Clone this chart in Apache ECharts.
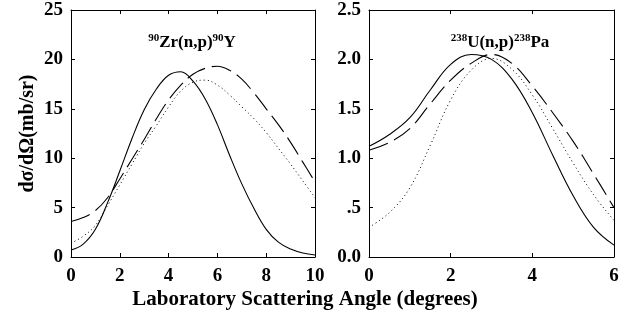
<!DOCTYPE html>
<html>
<head>
<meta charset="utf-8">
<script src="https://cdn.jsdelivr.net/npm/echarts@6/dist/echarts.min.js"></script>
<style>
  html, body { margin: 0; padding: 0; background: #fff; }
  #chart { width: 639px; height: 322px; }
</style>
</head>
<body>
<div id="chart"></div>
<script>
// 90Zr(n,p)90Y angular distribution, angle in degrees
const xZr = [0, 0.5, 1, 1.5, 2, 2.5, 3, 3.5, 4, 4.5, 5, 5.5, 6, 6.5, 7, 7.5, 8, 8.5, 9, 9.5, 10];
const zrSolid  = [0.7, 1.3, 2.8, 5.5, 8.7, 12.0, 14.9, 17.0, 18.4, 18.75, 17.8, 16.0, 13.4, 10.3, 7.4, 4.9, 2.8, 1.5, 0.8, 0.4, 0.2];
const zrDashed = [3.6, 4.0, 4.7, 6.0, 7.9, 9.9, 11.9, 14.0, 15.9, 17.4, 18.5, 19.1, 19.3, 18.9, 18.0, 16.6, 15.0, 13.4, 11.6, 9.6, 7.6];
const zrDotted = [1.4, 2.1, 3.2, 5.2, 7.3, 9.4, 11.5, 13.3, 15.2, 16.8, 17.7, 17.9, 17.4, 16.4, 15.2, 14.0, 12.6, 11.0, 9.4, 7.7, 6.0];

// 238U(n,p)238Pa angular distribution
const xU = [0, 0.5, 1, 1.5, 2, 2.5, 3, 3.5, 4, 4.5, 5, 5.5, 6];
const uSolid  = [1.12, 1.24, 1.41, 1.69, 1.95, 2.05, 2.00, 1.80, 1.46, 1.03, 0.62, 0.30, 0.12];
const uDashed = [1.08, 1.16, 1.30, 1.55, 1.79, 1.96, 2.05, 1.96, 1.73, 1.46, 1.17, 0.84, 0.50];
const uDotted = [0.30, 0.45, 0.70, 1.13, 1.59, 1.89, 2.01, 1.90, 1.64, 1.30, 0.95, 0.63, 0.37];

const zrTicksY = ['0', '5', '10', '15', '20', '25'];
const uTicksY = ['0.0', '.5', '1.0', '1.5', '2.0', '2.5'];

const pairs = (xs, ys) => xs.map((x, i) => [x, ys[i]]);

const FONT = '"Liberation Serif", "Times New Roman", serif';
const labelStyle = { color: '#000', fontFamily: FONT, fontWeight: 'bold', fontSize: 19 };

function axisBase(extra) {
  return Object.assign({
    type: 'value',
    axisLine: { show: true, onZero: false, lineStyle: { color: '#000', width: 1 } },
    axisTick: { show: true, inside: true, length: 4, lineStyle: { color: '#000' } },
    splitLine: { show: false },
    axisLabel: Object.assign({ margin: 10 }, labelStyle)
  }, extra);
}
function mirror(extra) {
  return axisBase(Object.assign({ axisLabel: { show: false } }, extra));
}

const grids = [
  { left: 71, top: 10, width: 244, height: 247 },
  { left: 369, top: 10, width: 245, height: 247 }
];

const lineSeries = (name, xi, yi, data, type, dash) => ({
  name, type: 'line', xAxisIndex: xi, yAxisIndex: yi,
  data, smooth: 0.4, showSymbol: false, silent: true,
  lineStyle: { color: '#000', width: type === 'dotted' ? 1 : 1.1, type: dash || type }
});

const titleRich = {
  m: { fontFamily: FONT, fontWeight: 'bold', fontSize: 17, color: '#000', lineHeight: 20 },
  s: { fontFamily: FONT, fontWeight: 'bold', fontSize: 11, color: '#000', lineHeight: 20, verticalAlign: 'top', padding: [0, 0, 7, 0] }
};

const option = {
  animation: false,
  backgroundColor: '#fff',
  grid: grids,
  xAxis: [
    axisBase({ gridIndex: 0, min: 0, max: 10, interval: 2 }),
    axisBase({ gridIndex: 1, min: 0, max: 6, interval: 2 }),
    mirror({ gridIndex: 0, position: 'top', min: 0, max: 10, interval: 2 }),
    mirror({ gridIndex: 1, position: 'top', min: 0, max: 6, interval: 2 })
  ],
  yAxis: [
    axisBase({
      gridIndex: 0, min: 0, max: 25, interval: 5,
      axisLabel: Object.assign({ margin: 8, formatter: v => zrTicksY[Math.round(v / 5)] }, labelStyle),
      name: 'dσ/dΩ(mb/sr)', nameLocation: 'middle', nameGap: 33, nameRotate: 90,
      nameTextStyle: { color: '#000', fontFamily: FONT, fontWeight: 'bold', fontSize: 20 }
    }),
    axisBase({
      gridIndex: 1, min: 0, max: 2.5, interval: 0.5,
      axisLabel: Object.assign({ margin: 8, formatter: v => uTicksY[Math.round(v / 0.5)] }, labelStyle)
    }),
    mirror({ gridIndex: 0, position: 'right', min: 0, max: 25, interval: 5 }),
    mirror({ gridIndex: 1, position: 'right', min: 0, max: 2.5, interval: 0.5 })
  ],
  title: [
    {
      text: '{s|90}{m|Zr(n,p)}{s|90}{m|Y}',
      left: 187, top: 28, textAlign: 'center',
      textStyle: { rich: titleRich }
    },
    {
      text: '{s|238}{m|U(n,p)}{s|238}{m|Pa}',
      left: 495, top: 28, textAlign: 'center',
      textStyle: { rich: titleRich }
    }
  ],
  graphic: [
    {
      type: 'text', x: 305, y: 300,
      style: {
        text: 'Laboratory Scattering Angle (degrees)',
        fill: '#000', align: 'center', verticalAlign: 'middle',
        font: 'bold 21px "Liberation Serif", "Times New Roman", serif'
      }
    }
  ],
  series: [
    lineSeries('Zr solid', 0, 0, pairs(xZr, zrSolid), 'solid'),
    lineSeries('Zr dashed', 0, 0, pairs(xZr, zrDashed), 'dashed', [20, 7]),
    lineSeries('Zr dotted', 0, 0, pairs(xZr, zrDotted), 'dotted', [1, 3]),
    lineSeries('U solid', 1, 1, pairs(xU, uSolid), 'solid'),
    lineSeries('U dashed', 1, 1, pairs(xU, uDashed), 'dashed', [20, 7]),
    lineSeries('U dotted', 1, 1, pairs(xU, uDotted), 'dotted', [1, 3])
  ]
};

const chart = echarts.init(document.getElementById('chart'), null, { renderer: 'canvas' });
chart.setOption(option);
</script>
</body>
</html>
